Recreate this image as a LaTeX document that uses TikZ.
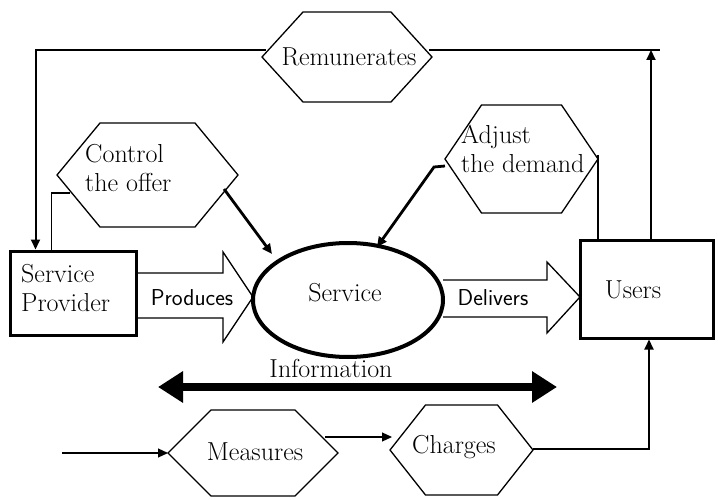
\documentclass[tikz,border=0pt]{standalone}
\usetikzlibrary{arrows.meta,shapes.geometric,calc}
\tikzset{
  hexline/.style={line width=1.3pt},
  thinline/.style={line width=1.2pt},
  midline/.style={line width=2pt},
  boldline/.style={line width=2.8pt},
  tipped/.style={-{Triangle[length=10pt,width=9pt]}},
  lbl/.style={font=\fontsize{26}{29}\selectfont, inner sep=0pt},
  slbl/.style={font=\sffamily\fontsize{23}{26}\selectfont, inner sep=0pt},
  boxed/.style={draw, line width=3pt, rectangle, inner sep=0pt},
  blockarrow/.style={line width=1.3pt, line join=miter},
}
\newcommand{\hexpath}[5]{\draw[hexline] ({#1-#3},#2) -- ({#1-#4},{#2-#5}) -- ({#1+#4},{#2-#5}) -- ({#1+#3},#2) -- ({#1+#4},{#2+#5}) -- ({#1-#4},{#2+#5}) -- cycle;}
\begin{document}
\begin{tikzpicture}[x=1pt,y=-1pt]
\useasboundingbox (0,0) rectangle (718,500);
% hexagons
\hexpath{347}{57}{85}{44}{45}
\hexpath{147.5}{175}{90.5}{47.5}{52}
\hexpath{521.5}{159}{76.5}{40}{54}
\hexpath{253}{453}{85}{42}{43}
\hexpath{461.5}{450}{71.5}{36}{45}
\node[lbl] (rem) at (349,57) {Remunerates};
\node[lbl, align=left, anchor=west] (ctl) at (85,168) {Control\\the offer};
\node[lbl, align=left, anchor=west] (adj) at (461,149) {Adjust\\the demand};
\node[lbl] (meas) at (255,452) {Measures};
\node[lbl] (chg) at (454,447) {Charges};
% boxes
\node[boxed, minimum width=126pt, minimum height=84pt] (sp) at (73,293) {};
\node[lbl, align=left, anchor=west] (sptxt) at (21,288) {Service\\Provider};
\node[boxed, minimum width=133pt, minimum height=98pt] (users) at (646.5,289) {};
\node[lbl] (usrtxt) at (633,290) {Users};
% service
\node[draw, ellipse, line width=4pt, minimum width=190pt, minimum height=114pt] (svc) at (348,300) {};
\node[lbl] (svctxt) at (345,293) {Service};
% block arrows
\draw[blockarrow] (136,273) -- (223,273) -- (223,252) -- (253,297) -- (223,342) -- (223,318) -- (136,318);
\node[slbl] (prod) at (192,298) {Produces};
\draw[blockarrow] (443,280) -- (547,280) -- (547,262) -- (580,297) -- (547,333) -- (547,317) -- (443,317);
\node[slbl] (deliv) at (493,298) {Delivers};
% information
\coordinate (infoL) at (158,387);
\coordinate (infoR) at (557,387);
\draw[line width=8pt, {Triangle[length=25pt,width=30pt]}-{Triangle[length=25pt,width=30pt]}] (infoL) -- (infoR);
\node[lbl] (info) at (331,368) {Information};
% top loop
\coordinate (remL) at (266,50);
\coordinate (remR) at (429,50);
\coordinate (topR) at (660,50);
\draw[midline, tipped] (remL) -| ([xshift=27pt]sp.north west);
\draw[midline] (remR) -- (topR);
\coordinate (uUp) at ([xshift=4.5pt]users.north);
\draw[midline, tipped] (uUp) -- (uUp |- topR);
% control the offer
\coordinate (ctlA) at (70,193);
\draw[thinline] ([xshift=43pt]sp.north west) |- (ctlA);
\coordinate (ctlB) at (224,189);
\coordinate (svcA) at (272,254);
\draw[boldline, tipped] (ctlB) -- (svcA);
% adjust the demand
\coordinate (adjR) at (598,155);
\draw[thinline] (adjR) -- (adjR |- users.north);
\coordinate (adjL) at (445,166);
\coordinate (adjK) at (434,167);
\coordinate (svcB) at (377,247);
\draw[boldline, tipped] (adjL) -- (adjK) -- (svcB);
% bottom
\coordinate (inL) at (62,453);
\coordinate (measW) at (168,453);
\draw[thinline, tipped] (inL) -- (measW);
\coordinate (measE) at (325,437);
\coordinate (chgW) at (392,437);
\draw[thinline, tipped] (measE) -- (chgW);
\coordinate (chgE) at (533,449);
\draw[midline, tipped] (chgE) -| ([xshift=2.5pt]users.south);
\end{tikzpicture}
\end{document}
